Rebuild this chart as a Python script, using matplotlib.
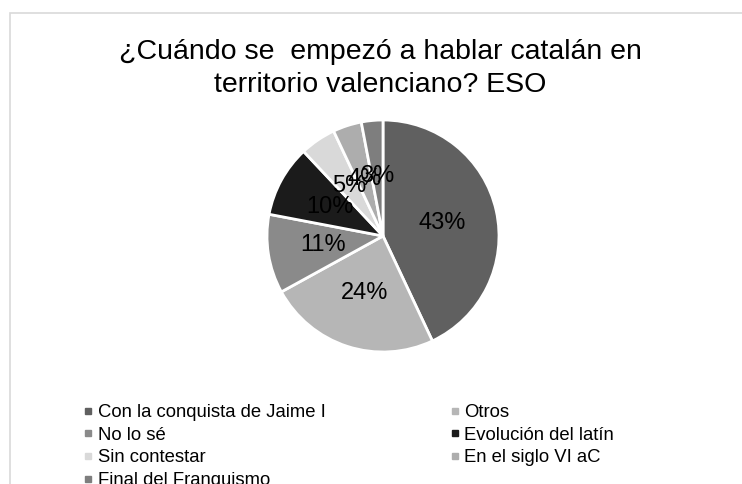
import numpy as np
import matplotlib.pyplot as plt
from matplotlib.lines import Line2D
from matplotlib.patches import Rectangle

plt.rcParams['font.family'] = ['Liberation Sans', 'DejaVu Sans']

categorias = ["Con la conquista de Jaime I", "Otros", "No lo sé", "Evolución del latín",
              "Sin contestar", "En el siglo VI aC", "Final del Franquismo"]
valores = [43, 24, 11, 10, 5, 4, 3]
colores = ["#606060", "#b6b6b6", "#8a8a8a", "#1b1b1b", "#d9d9d9", "#adadad", "#7e7e7e"]
titulo = ["¿Cuándo se  empezó a hablar catalán en", "territorio valenciano? ESO"]

W, H = 742, 484
fig = plt.figure(figsize=(W / 100, H / 100), dpi=100)

# marco del grafico (cortado a la derecha y abajo)
fig.patches.append(Rectangle((9.5 / W, -0.05), 1.1, 1 - 12.5 / H + 0.05, transform=fig.transFigure,
                             fill=False, edgecolor="#d9d9d9", linewidth=1.2))

# titulo en dos lineas
fig.text(380.5 / W, 1 - 59 / H, titulo[0], ha="center", va="baseline", fontsize=20.5)
fig.text(380.5 / W, 1 - 92 / H, titulo[1], ha="center", va="baseline", fontsize=20.5)

# la tarta
cx, cy, r = 383, 236, 116
ax = fig.add_axes([(cx - r) / W, 1 - (cy + r) / H, 2 * r / W, 2 * r / H])
wedges, textos, pct = ax.pie(valores, colors=colores, startangle=90, counterclock=False,
                             wedgeprops=dict(edgecolor="white", linewidth=2),
                             autopct="%1.0f%%", pctdistance=0.52,
                             textprops=dict(fontsize=17, color="black"))
ax.set_xlim(-1, 1)
ax.set_ylim(-1, 1)
ax.set_aspect("equal")
ax.axis("off")

# leyenda: dos columnas, rellenada por filas
orden = [0, 2, 4, 6, 1, 3, 5]
handles = [Line2D([], [], marker="s", linestyle="none", markersize=4.5,
                  markerfacecolor=colores[i], markeredgecolor=colores[i]) for i in orden]
fig.legend(handles, [categorias[i] for i in orden], ncol=2, loc="upper left",
           bbox_to_anchor=(85 / W, 1 - 404 / H), frameon=False, fontsize=13.3,
           handlelength=0.35, handletextpad=0.35, labelspacing=0.31, columnspacing=6.8,
           borderpad=0, borderaxespad=0)

plt.savefig("out.png", dpi=100)
